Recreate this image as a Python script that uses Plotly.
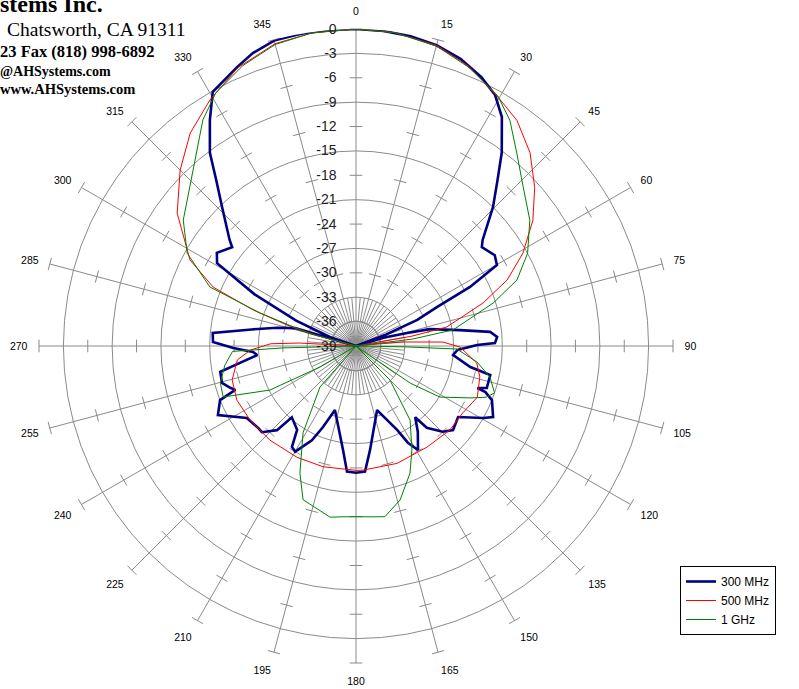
import plotly.graph_objects as go

# ---------------- data (dB vs. angle in degrees) ----------------
theta_300 = [0, 5, 10, 15, 20, 25, 29, 32.5, 37, 40.5, 44.6, 50.1, 51.8, 56.8, 60.1, 62.6, 64.3, 66.9, 69, 70.5,
             73, 75.7, 77.1, 81.3, 84, 86.3, 88.8, 89.5, 92.2, 95.3, 100.4, 102.2, 107.8, 109.1, 109.6, 111.7,
             117.4, 119.5, 124.8, 130.9, 134.7, 139.1, 140.3, 144.2, 149.2, 151.8, 153.9, 161.8, 172.3, 175.9,
             180, 184.1, 187.1, 198.2, 202.2, 205.1, 209.9, 212.4, 215.1, 222, 223.2, 227.5, 230.1, 236.6,
             243.4, 248.3, 250, 251.6, 254.6, 259.2, 264.8, 266.7, 269.1, 271.6, 275.2, 279, 283, 286.4, 287.5,
             289, 293, 297, 300.8, 303.8, 308.6, 310, 316, 319.9, 322.9, 327.1, 330.6, 336.9, 340.6, 345, 350,
             355, 360]
db_300 = [0.0, -0.1, -0.3, -0.7, -1.4, -2.5, -3.7, -5.6, -9.2, -12.2, -15.0, -18.7, -19.3, -18.6, -19.0, -23.2,
          -27.9, -30.8, -35.0, -39.0, -35.5, -32.5, -29.7, -26.1, -22.4, -21.6, -21.9, -24.1, -26.5, -27.0,
          -24.7, -22.1, -22.1, -23.2, -22.1, -21.0, -20.0, -21.0, -23.7, -23.2, -24.0, -25.7, -27.6, -26.0,
          -24.1, -25.5, -27.5, -30.7, -26.1, -23.5, -23.4, -23.5, -26.1, -30.7, -28.2, -26.2, -24.0, -24.3,
          -26.4, -27.2, -24.8, -23.3, -23.3, -22.9, -20.0, -21.0, -23.2, -22.7, -21.9, -22.0, -26.8, -26.3,
          -23.9, -21.4, -21.3, -26.0, -29.0, -31.2, -39.0, -35.6, -31.0, -25.0, -19.1, -18.4, -19.5, -18.7,
          -15.3, -12.3, -9.2, -5.9, -3.1, -1.7, -0.8, -0.1, 0.0, 0.0, 0.0]

theta_500 = [0, 7, 15, 22, 29.7, 35.5, 42, 48.4, 54.6, 60.9, 66.4, 71.3, 78.2, 80, 82, 84.3, 85.1, 87.4, 90.6,
             98, 104, 112.9, 122.1, 131.8, 144.9, 160.7, 176.8, 180, 195.3, 208, 222.5, 235, 245.6, 254.7,
             263.3, 267.8, 271.5, 273, 275, 283, 285, 287, 289.3, 292.4, 297.4, 306.6, 315, 322.1, 329.3, 337,
             345, 352, 360]
db_500 = [0.0, -0.15, -0.7, -1.9, -3.75, -4.9, -7.0, -9.6, -12.3, -15.5, -18.7, -22.5, -27.6, -32.0, -39.0,
          -36.0, -33.2, -28.3, -26.2, -24.0, -23.3, -22.8, -23.5, -23.5, -23.8, -23.7, -23.7, -23.7, -23.6,
          -23.5, -23.3, -23.1, -22.9, -23.2, -24.3, -26.0, -28.5, -32.0, -39.0, -39.0, -34.0, -30.0, -25.6,
          -20.0, -16.0, -11.6, -8.4, -5.8, -3.8, -1.8, -0.5, -0.1, 0.0]

theta_1g = [0, 7, 15, 22, 29.5, 34.3, 39.8, 46.4, 54.1, 61.6, 67.7, 72.6, 80.6, 83, 85.5, 89, 91, 91.7, 97.5,
            103, 108.7, 111.5, 114.5, 121.3, 124.4, 127, 131, 135, 143.9, 151.7, 157, 164, 170.4, 175, 180,
            185, 188.6, 199, 203.8, 211.4, 221.3, 226, 235, 239.7, 242.9, 249, 254.8, 261.7, 267.5, 268.5,
            270, 281, 285, 289, 292, 298.8, 306.1, 317.2, 325.9, 331, 338, 345, 352, 360]
db_1g = [0.0, -0.15, -0.8, -2.0, -3.6, -5.4, -8.1, -10.6, -12.6, -15.0, -17.6, -21.3, -26.9, -32.0, -39.0,
         -39.0, -33.0, -26.6, -24.0, -22.1, -21.0, -21.8, -23.6, -26.9, -30.9, -39.0, -39.0, -33.1, -27.7,
         -24.5, -22.0, -19.3, -17.7, -17.9, -18.0, -17.9, -17.7, -19.0, -21.9, -26.5, -32.3, -39.0, -39.0,
         -33.9, -27.1, -21.5, -21.7, -22.7, -23.8, -30.0, -39.0, -39.0, -33.0, -26.5, -19.6, -15.3, -12.7,
         -9.5, -5.4, -3.4, -1.8, -0.6, -0.1, 0.0]

radial_ticks = list(range(-39, 1, 3))
radial_labels = [str(v) for v in radial_ticks]
angle_ticks = list(range(0, 360, 15))
angle_labels = [str(a) for a in angle_ticks]
grid_levels = [-3, -9, -15, -21, -27, -33]
cross_levels = [0, -6, -12, -18, -24, -30, -36]

# header lines as they are visible in the picture
header_lines = ["stems Inc.", "Chatsworth, CA 91311", "23 Fax (818) 998-6892", "@AHSystems.com",
                "www.AHSystems.com"]

# ---------------- geometry of the page ----------------
W, H = 799, 689
CX, CY, RAD = 356, 346, 317
GRID = "#8a8a8a"

fig = go.Figure()

# grid circles
circ_t = list(range(0, 361, 5))
ct, cr = [], []
for lv in grid_levels:
    ct += circ_t + [None]
    cr += [lv] * len(circ_t) + [None]
fig.add_trace(go.Scatterpolar(theta=ct, r=cr, mode="lines", line=dict(color=GRID, width=1),
                              hoverinfo="skip", showlegend=False))

# minor spokes near the centre
mt, mr = [], []
for a in range(0, 360, 5):
    if a % 15:
        mt += [a, a, None]
        mr += [-39, -33, None]
fig.add_trace(go.Scatterpolar(theta=mt, r=mr, mode="lines", line=dict(color=GRID, width=1),
                              hoverinfo="skip", showlegend=False))

# cross ticks on the spokes
xt, xr = [], []
for a in angle_ticks:
    for lv in cross_levels:
        xt.append(a)
        xr.append(lv)
fig.add_trace(go.Scatterpolar(theta=xt, r=xr, mode="markers",
                              marker=dict(symbol="line-ew", size=9, angle=xt,
                                          line=dict(color=GRID, width=1)),
                              hoverinfo="skip", showlegend=False))

# centre blob
fig.add_trace(go.Scatterpolar(theta=[0], r=[-39], mode="markers",
                              marker=dict(color="#909090", size=10), hoverinfo="skip", showlegend=False))

# series
fig.add_trace(go.Scatterpolar(theta=theta_300, r=db_300, mode="lines", name="300 MHz",
                              line=dict(color="#000080", width=2.6)))
fig.add_trace(go.Scatterpolar(theta=theta_500, r=db_500, mode="lines", name="500 MHz",
                              line=dict(color="#FF0000", width=1)))
fig.add_trace(go.Scatterpolar(theta=theta_1g, r=db_1g, mode="lines", name="1 GHz",
                              line=dict(color="#008000", width=1)))

fig.update_layout(
    width=W, height=H,
    margin=dict(l=0, r=0, t=0, b=0),
    paper_bgcolor="white",
    font=dict(family="Liberation Sans, Arial, sans-serif", color="black"),
    polar=dict(
        domain=dict(x=[(CX - RAD) / W, (CX + RAD) / W], y=[1 - (CY + RAD) / H, 1 - (CY - RAD) / H]),
        bgcolor="white",
        angularaxis=dict(rotation=90, direction="clockwise", tickmode="array", tickvals=angle_ticks,
                         ticktext=angle_labels, showline=False, showgrid=True, gridcolor=GRID,
                         gridwidth=1, ticks="outside", ticklen=9, tickcolor="rgba(0,0,0,0)",
                         tickfont=dict(size=10.5, family="Liberation Sans, Arial, sans-serif")),
        radialaxis=dict(range=[-39, 0], angle=90, side="counterclockwise", tickmode="array",
                        tickvals=radial_ticks, ticktext=radial_labels, showgrid=False, showline=False,
                        ticks="outside", ticklen=14, tickcolor="rgba(0,0,0,0)", tickangle=90,
                        tickfont=dict(size=14, family="Liberation Sans, Arial, sans-serif", color="#222")),
    ),
    showlegend=True,
    legend=dict(x=680 / W, y=1 - 566 / H, xanchor="left", yanchor="top", bgcolor="white",
                bordercolor="black", borderwidth=1, font=dict(size=12), tracegroupgap=0),
)

# company header
hdr_style = [  # (left x px, centre y px, size, bold)
    (0, 4, 24, True),
    (7, 29, 19.5, False),
    (0, 51, 16.5, True),
    (0, 71, 14, True),
    (0, 89, 14.5, True),
]
for txt, (xl, yc, sz, bold) in zip(header_lines, hdr_style):
    fig.add_annotation(text=f"<b>{txt}</b>" if bold else txt, xref="paper", yref="paper",
                       x=xl / W, y=1 - yc / H, xanchor="left", yanchor="middle", showarrow=False,
                       xshift=-2, font=dict(family="Liberation Serif, Times New Roman, serif", size=sz,
                                            color="black"))

fig.write_html("out.html", config={"displayModeBar": False},
               post_script="document.body.style.margin='0';document.body.style.overflow='hidden';")
